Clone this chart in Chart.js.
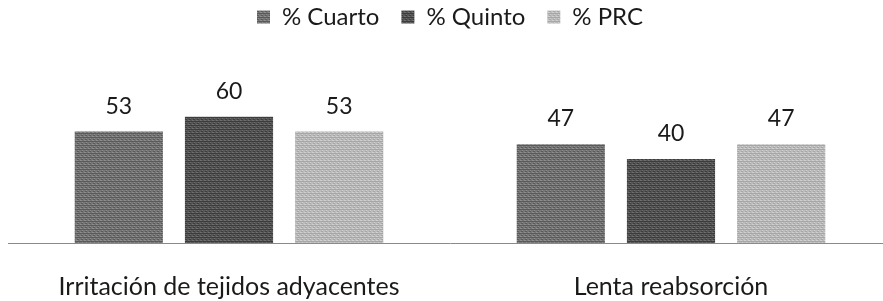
<!DOCTYPE html>
<html>
<head>
<meta charset="utf-8">
<script src="https://cdn.jsdelivr.net/npm/chart.js@4.4.0/dist/chart.umd.min.js"></script>
<style>
html,body{margin:0;padding:0;background:#fff;overflow:hidden;}
#wrap{position:relative;width:883px;height:301px;overflow:hidden;}
#c{position:absolute;left:0;top:-23px;}
</style>
</head>
<body>
<div id="wrap"><canvas id="c" width="892" height="354"></canvas></div>
<script>
const categories = ["Irritación de tejidos adyacentes", "Lenta reabsorción"];
const seriesNames = ["% Cuarto", "% Quinto", "% PRC"];
const cuarto = [53, 47];
const quinto = [60, 40];
const prc = [53, 47];

function makePattern(base, light, dark) {
  const p = document.createElement('canvas');
  p.width = 4; p.height = 4;
  const g = p.getContext('2d');
  g.fillStyle = base; g.fillRect(0, 0, 4, 4);
  g.fillStyle = dark; g.fillRect(0, 0, 4, 1); g.fillRect(1, 2, 2, 1);
  g.fillStyle = light; g.fillRect(2, 1, 1, 1); g.fillRect(0, 3, 2, 1);
  return g.createPattern(p, 'repeat');
}
const ctx = document.getElementById('c').getContext('2d');
const fills = [
  makePattern('#767676', '#8e8e8e', '#5a5a5a'),
  makePattern('#565656', '#6e6e6e', '#3c3c3c'),
  makePattern('#bcbcbc', '#d0d0d0', '#a6a6a6')
];
const FONT = 'Lato, "Open Sans", sans-serif';

const valueLabels = {
  id: 'valueLabels',
  afterDatasetsDraw(chart) {
    const c = chart.ctx;
    c.save();
    c.font = '23px ' + FONT;
    c.fillStyle = '#1a1a1a';
    c.textAlign = 'center';
    c.textBaseline = 'alphabetic';
    chart.data.datasets.forEach((ds, i) => {
      chart.getDatasetMeta(i).data.forEach((bar, j) => {
        c.fillText(String(ds.data[j]), bar.x, bar.y - 18);
      });
    });
    c.restore();
  }
};

new Chart(ctx, {
  type: 'bar',
  data: {
    labels: categories,
    datasets: [
      { label: seriesNames[0], data: cuarto, backgroundColor: fills[0] },
      { label: seriesNames[1], data: quinto, backgroundColor: fills[1] },
      { label: seriesNames[2], data: prc, backgroundColor: fills[2] }
    ]
  },
  options: {
    responsive: false,
    animation: false,
    devicePixelRatio: 1,
    layout: { padding: { left: 8, right: 0, top: 6, bottom: 0 } },
    datasets: { bar: { categoryPercentage: 0.748, barPercentage: 0.8 } },
    plugins: {
      tooltip: { enabled: false },
      legend: {
        position: 'top',
        align: 'center',
        labels: {
          font: { size: 24, family: FONT },
          color: '#1a1a1a',
          boxWidth: 13,
          boxHeight: 13,
          padding: 22
        }
      }
    },
    scales: {
      x: {
        grid: { display: false, drawTicks: false },
        border: { display: true, color: '#8a8a8a', width: 1 },
        ticks: { font: { size: 25, family: FONT }, color: '#1a1a1a', padding: 29 }
      },
      y: {
        display: false,
        min: 0,
        max: 97
      }
    }
  },
  plugins: [valueLabels]
});
</script>
</body>
</html>
